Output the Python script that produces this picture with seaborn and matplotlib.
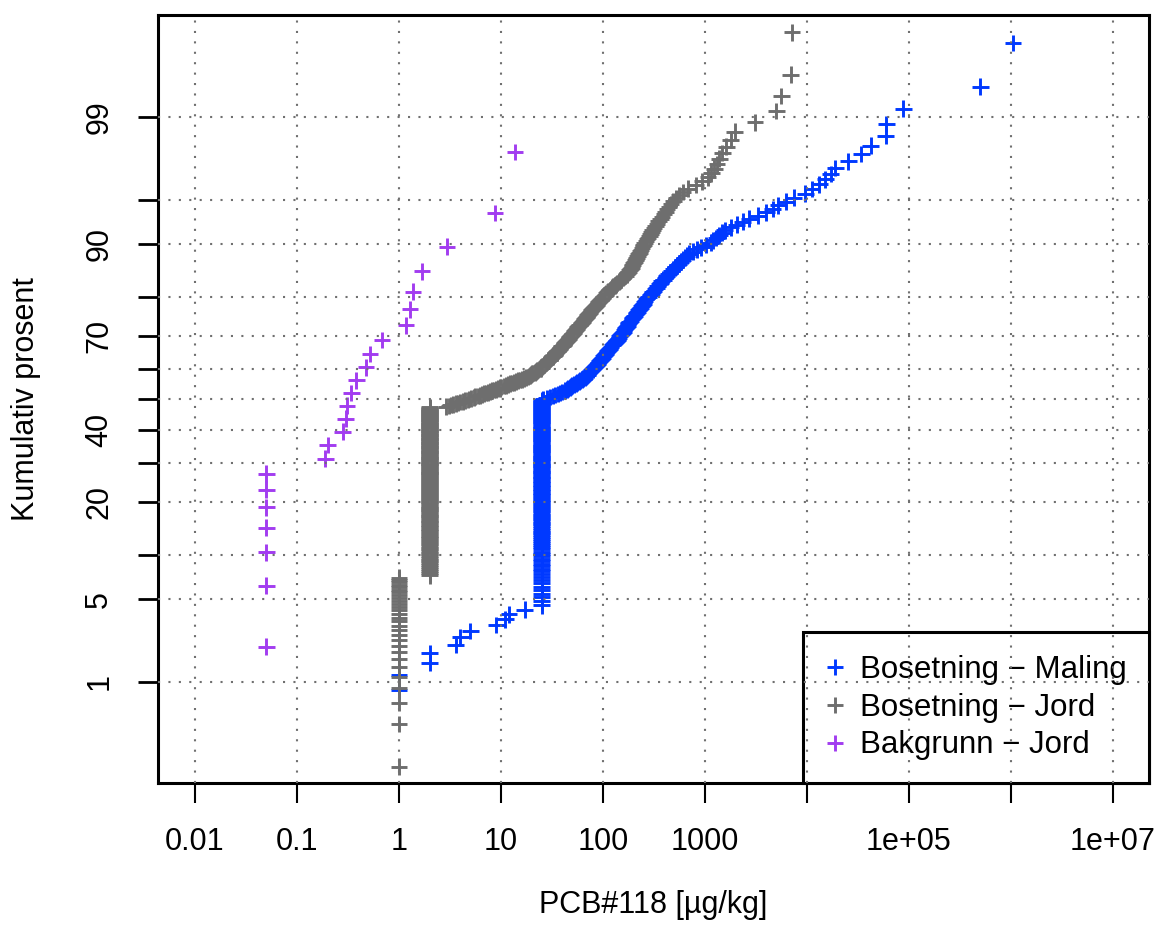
import numpy as np
import pandas as pd
import matplotlib
matplotlib.use('Agg')
import matplotlib.pyplot as plt
from matplotlib.lines import Line2D
from matplotlib.ticker import NullLocator
import seaborn as sns
from statistics import NormalDist

# PCB#118 [ug/kg], sorted. Tied values (detection limits) given as value + count.
# Two Maling values are 0 -> counted in n but not drawn on the log axis.
maling_tied = [0.0, 1.0, 2.0, 3.6, 4.0, 5.0, 9.0, 11.0, 12.0, 17.0, 25.0]
maling_tied_n = [2, 2, 2, 1, 1, 1, 1, 1, 1, 1, 137]
maling_upper = [
    26, 28, 30, 32, 34, 36, 38, 40, 42, 44,
    45, 47, 48, 50, 52, 54, 56, 58, 60, 62,
    64, 66, 68, 70, 71, 73, 74, 76, 77, 79,
    81, 82, 84, 86, 88, 89, 91, 93, 95, 97,
    99, 101, 103, 105, 107, 109, 111, 113, 115, 117,
    120, 123, 126, 129, 132, 135, 138, 140, 143, 146,
    148, 151, 155, 158, 161, 164, 167, 170, 173, 176,
    178, 183, 188, 192, 196, 200, 205, 210, 214, 218,
    222, 227, 232, 237, 242, 248, 253, 258, 264, 270,
    280, 288, 297, 306, 315, 324, 334, 344, 354, 365,
    376, 390, 405, 420, 437, 455, 472, 490, 510, 533,
    556, 580, 605, 630, 660, 700, 760, 830, 920, 1020,
    1140, 1200, 1290, 1380, 1470, 1560, 1780, 2040, 2340, 2700,
    3300, 4000, 4600, 5200, 6200, 7400, 9600, 11200, 13200, 15100,
    17000, 19000, 25500, 34000, 42000, 59000, 60000, 88000, 500000, 1050000,
]

jord_tied = [1.0, 2.0]
jord_tied_n = [29, 161]
jord_upper = [
    2.9, 3.1, 3.2, 3.4, 3.6, 3.8, 4.0, 4.2, 4.4, 4.7,
    4.9, 5.1, 5.4, 5.6, 5.9, 6.2, 6.5, 6.8, 7.1, 7.4,
    7.8, 8.1, 8.5, 8.9, 9.3, 9.7, 10.1, 10.6, 11.1, 11.6,
    12.2, 12.7, 13.3, 14.0, 14.6, 15.3, 16.0, 16.7, 17.5, 18.2,
    18.6, 19.2, 19.7, 20.3, 20.8, 21.4, 22.0, 22.6, 23.2, 23.9,
    24.4, 24.8, 25.2, 25.6, 26.1, 26.5, 27.0, 27.5, 28.1, 28.7,
    29.2, 29.8, 30.3, 30.9, 31.5, 32.1, 32.6, 33.2, 33.8, 34.4,
    35.0, 35.6, 36.2, 36.8, 37.4, 38.0, 38.6, 39.3, 40.0, 40.7,
    41.4, 42.1, 42.8, 43.5, 44.2, 44.9, 45.6, 46.4, 47.2, 48.0,
    48.8, 49.6, 50.4, 51.2, 52.0, 52.9, 53.8, 54.7, 55.6, 56.6,
    57.6, 58.6, 59.6, 60.6, 61.6, 62.6, 63.7, 64.9, 66.1, 67.3,
    68.5, 69.7, 70.9, 72.2, 73.5, 74.8, 76.1, 77.5, 79.1, 80.7,
    82.4, 84.0, 85.7, 87.4, 89.1, 90.9, 92.7, 94.6, 96.6, 98.6,
    100, 103, 105, 108, 111, 113, 116, 119, 122, 126,
    130, 134, 138, 142, 146, 151, 156, 161, 166, 172,
    175, 178, 182, 185, 189, 192, 196, 199, 203, 207,
    210, 214, 218, 222, 227, 231, 236, 241, 246, 251,
    257, 263, 270, 277, 284, 291, 298, 306, 316, 327,
    339, 352, 366, 380, 395, 410, 425, 442, 465, 490,
    525, 562, 610, 676, 813, 944, 1070, 1150, 1230, 1310,
    1380, 1480, 1620, 1780, 1950, 3100, 5000, 5600, 6900, 7100,
]

bakgrunn_tied = [0.05]
bakgrunn_tied_n = [7]
bakgrunn_upper = [0.19, 0.20, 0.28, 0.30, 0.31, 0.34, 0.38, 0.475, 0.52,
                  0.68, 1.17, 1.28, 1.37, 1.68, 2.95, 8.7, 13.7]

series_names = ['Bosetning \u2212 Maling', 'Bosetning \u2212 Jord', 'Bakgrunn \u2212 Jord']
series_colors = ['#0039ff', '#6e6e6e', '#a23cf0']

x_ticks = [0.01, 0.1, 1, 10, 100, 1000, 1e4, 1e5, 1e6, 1e7]
x_ticklabels = ['0.01', '0.1', '1', '10', '100', '1000', '', '1e+05', '', '1e+07']
y_ticks = [1, 5, 10, 20, 30, 40, 50, 60, 70, 80, 90, 95, 99]
y_ticklabels = ['1', '5', '', '20', '', '40', '', '', '70', '', '90', '', '99']

nd = NormalDist()


def probplot_frame(tied, tied_n, upper, name):
    vals = np.concatenate([np.repeat(tied, tied_n), np.array(upper, dtype=float)])
    vals = np.sort(vals)
    n = len(vals)
    p = (np.arange(1, n + 1) - 0.5) / n
    z = [nd.inv_cdf(q) for q in p]
    d = pd.DataFrame({'conc': vals, 'z': z, 'serie': name})
    return d[d['conc'] > 0]


df = pd.concat([
    probplot_frame(maling_tied, maling_tied_n, maling_upper, series_names[0]),
    probplot_frame(jord_tied, jord_tied_n, jord_upper, series_names[1]),
    probplot_frame(bakgrunn_tied, bakgrunn_tied_n, bakgrunn_upper, series_names[2]),
], ignore_index=True)

sns.set_theme(style='white')
plt.rcParams['font.family'] = ['Liberation Sans', 'DejaVu Sans']
plt.rcParams['text.color'] = 'black'
plt.rcParams['axes.labelcolor'] = 'black'
plt.rcParams['xtick.color'] = 'black'
plt.rcParams['ytick.color'] = 'black'

fig = plt.figure(figsize=(11.62, 9.36), dpi=100)
ax = fig.add_axes([0.136, 0.1635, 0.8528, 0.8205])

palette = dict(zip(series_names, series_colors))
sns.scatterplot(data=df, x='conc', y='z', hue='serie', palette=palette,
                marker='+', s=144, linewidth=2.1, legend=False, ax=ax, zorder=3)

ax.set_xscale('log')
ax.set_xlim(10 ** -2.363, 10 ** 7.353)
ax.set_ylim(-3.158, 3.166)

ax.set_xticks(x_ticks)
ax.set_xticklabels(x_ticklabels)
ax.xaxis.set_minor_locator(NullLocator())
y_pos = [nd.inv_cdf(v / 100) for v in y_ticks]
ax.set_yticks(y_pos)
ax.set_yticklabels(y_ticklabels, rotation=90, va='center')

ax.tick_params(axis='y', length=14.5, width=2.0, pad=17, labelsize=22,
               colors='black', direction='out', left=True)
ax.tick_params(axis='x', length=14.5, width=1.5, pad=17, labelsize=22,
               colors='black', direction='out', bottom=True)

for s in ax.spines.values():
    s.set_linewidth(2.2)
    s.set_color('black')

# dotted grid drawn on top of points and legend (as in the original)
for v in x_ticks:
    ax.axvline(v, color='#707070', lw=1.5, ls=(0, (1, 4)), zorder=6)
for v in y_pos:
    ax.axhline(v, color='#707070', lw=1.5, ls=(0, (1, 4)), zorder=6)

ax.set_xlabel('PCB#118 [\u00b5g/kg]', fontsize=22, color='black')
ax.set_ylabel('Kumulativ prosent', fontsize=22, color='black')
ax.xaxis.label.set_va('center')
ax.yaxis.label.set_va('center')
ax.yaxis.label.set_ha('center')
ax.xaxis.set_label_coords(0.5, -0.159)
ax.yaxis.set_label_coords(-0.133, 0.5)

handles = [Line2D([], [], ls='', marker='+', ms=12, mew=2.1, color=c) for c in series_colors]
leg = ax.legend(handles, series_names, loc='lower right', borderaxespad=0, frameon=True,
                fancybox=False, edgecolor='black', framealpha=1, fontsize=22.5,
                handlelength=0.6, handletextpad=0.5, labelspacing=0.25, borderpad=0.72)
leg.get_frame().set_linewidth(2.2)
leg.set_zorder(5)
for t in leg.get_texts():
    t.set_color('black')

fig.savefig('out.png', dpi=100)
